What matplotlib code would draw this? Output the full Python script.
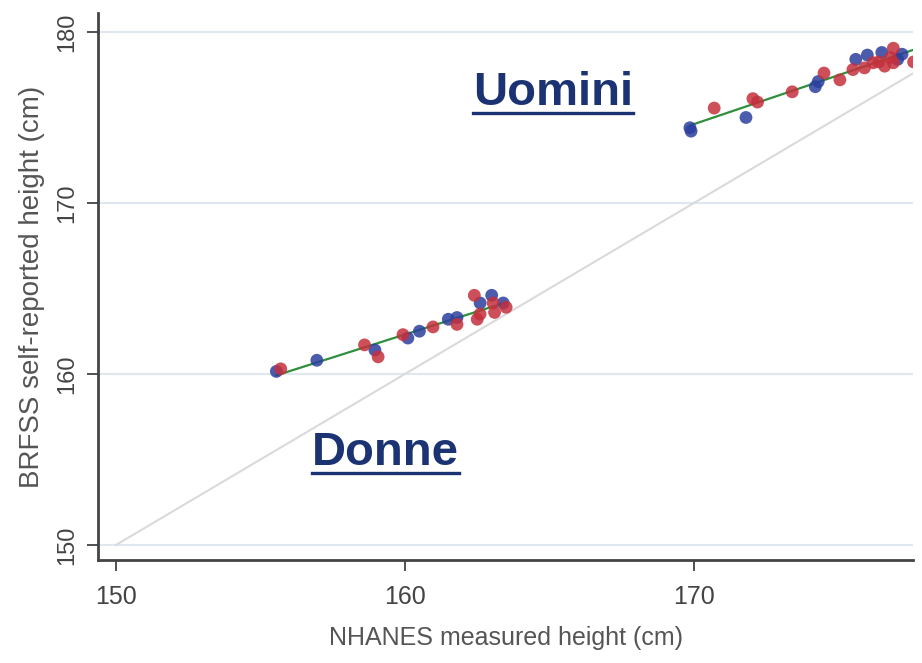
import numpy as np
import matplotlib.pyplot as plt
from matplotlib.lines import Line2D

plt.rcParams['font.family'] = ['Liberation Sans', 'DejaVu Sans']

# women (Donne): NHANES measured vs BRFSS self-reported height, cm
donne_blue_x = [155.55, 156.95, 158.96, 160.1, 160.5, 161.5, 161.8, 162.6, 163.0, 163.4]
donne_blue_y = [160.15, 160.8, 161.4, 162.1, 162.5, 163.2, 163.3, 164.15, 164.6, 164.15]
donne_red_x = [155.7, 158.6, 159.07, 159.93, 160.97, 161.8, 162.4, 162.5, 162.6, 163.05, 163.1, 163.5]
donne_red_y = [160.3, 161.7, 161.0, 162.3, 162.75, 162.9, 164.6, 163.2, 163.5, 164.15, 163.6, 163.9]

# men (Uomini)
uomini_blue_x = [169.86, 169.9, 171.8, 174.2, 174.3, 175.6, 176.0, 176.5, 177.05, 177.2]
uomini_blue_y = [174.4, 174.2, 175.0, 176.8, 177.1, 178.4, 178.65, 178.8, 178.4, 178.7]
uomini_red_x = [170.7, 172.04, 172.2, 173.4, 174.5, 175.05, 175.5, 175.9, 176.2, 176.4,
                176.6, 176.8, 176.9, 176.9, 177.6]
uomini_red_y = [175.55, 176.1, 175.9, 176.5, 177.6, 177.2, 177.8, 177.9, 178.2, 178.25,
                178.0, 178.5, 179.05, 178.2, 178.25]

y_ticks = [150, 160, 170, 180]
x_ticks = [150, 160, 170]

blue = '#2b3f9e'
red = '#c4303c'
green = '#2f8f3c'
navy = '#1b3372'

fig = plt.figure(figsize=(9.22, 6.63), dpi=100)
ax = fig.add_axes([98 / 922, 1 - 560 / 663, (913 - 98) / 922, (560 - 13) / 663])

ax.set_xlim(149.377, 177.58)
ax.set_ylim(149.12, 181.11)

for y in y_ticks:
    ax.axhline(y, color='#dfe7f0', lw=1.5, zorder=0)

ax.plot([150, 182], [150, 182], color='#dadada', lw=1.5, zorder=1)

# fitted lines through each group
for bx, by, rx, ry, x_end in [
    (donne_blue_x, donne_blue_y, donne_red_x, donne_red_y, None),
    (uomini_blue_x, uomini_blue_y, uomini_red_x, uomini_red_y, 178.5),
]:
    xs = np.array(bx + rx)
    ys = np.array(by + ry)
    k, b = np.polyfit(xs, ys, 1)
    x0 = xs.min()
    x1 = xs.max() if x_end is None else x_end
    ax.plot([x0, x1], [k * x0 + b, k * x1 + b], color=green, lw=1.6, zorder=2)

for xs, ys, c in [(donne_blue_x, donne_blue_y, blue), (donne_red_x, donne_red_y, red),
                  (uomini_blue_x, uomini_blue_y, blue), (uomini_red_x, uomini_red_y, red)]:
    ax.scatter(xs, ys, s=85, color=c, alpha=0.85, edgecolors='none', zorder=3)

ax.set_xticks(x_ticks)
ax.set_yticks(y_ticks)
ax.set_yticklabels([str(t) for t in y_ticks], rotation=90, va='center')
ax.tick_params(axis='x', labelsize=18, colors='#333333', labelcolor='#444444',
               length=8, width=1.2, pad=10)
ax.tick_params(axis='y', labelsize=17, colors='#333333', labelcolor='#444444',
               length=8, width=1.2, pad=6)
for side in ['top', 'right']:
    ax.spines[side].set_visible(False)
for side in ['left', 'bottom']:
    ax.spines[side].set_color('#444444')
    ax.spines[side].set_linewidth(2)

ax.set_xlabel('NHANES measured height (cm)', fontsize=18, color='#555555', labelpad=12)
ax.set_ylabel('BRFSS self-reported height (cm)', fontsize=20, color='#555555', labelpad=8)

# group labels, underlined
labels = []
for txt, px, py in [('Uomini', 553, 105), ('Donne', 385, 465)]:
    t = fig.text(px / 922, 1 - py / 663, txt, ha='center', va='baseline',
                 fontsize=34, fontweight='bold', color=navy)
    labels.append(t)

fig.canvas.draw()
renderer = fig.canvas.get_renderer()
for t in labels:
    bb = t.get_window_extent(renderer)
    _, base_y = fig.transFigure.transform(t.get_position())
    uy = (base_y - 8) / fig.bbox.height
    fig.add_artist(Line2D([bb.x0 / fig.bbox.width, bb.x1 / fig.bbox.width], [uy, uy],
                          transform=fig.transFigure, color=navy, lw=2.4))

fig.savefig('out.png', dpi=100)
